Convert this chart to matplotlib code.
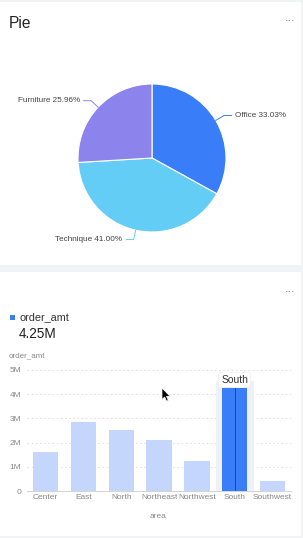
import numpy as np
import matplotlib
matplotlib.use("Agg")
import matplotlib.pyplot as plt
from matplotlib.patches import Rectangle, Polygon

plt.rcParams['font.family'] = ['Liberation Sans', 'DejaVu Sans']

# ---- data ----
pie_labels = ["Office", "Technique", "Furniture"]
pie_values = [33.03, 41.00, 25.96]
pie_colors = ["#3a7df9", "#63cdf5", "#8c84ec"]

areas = ["Center", "East", "North", "Northeast", "Northwest", "South", "Southwest"]
order_amt = [1.62, 2.86, 2.51, 2.11, 1.25, 4.25, 0.41]  # millions
highlight = "South"
y_ticks = [0, 1, 2, 3, 4, 5]
y_tick_labels = ["0", "1M", "2M", "3M", "4M", "5M"]

W, H = 303, 538
fig = plt.figure(figsize=(W / 100, H / 100), dpi=100)
fig.patch.set_facecolor("#f2f3f5")


def fx(x):
    return x / W


def fy(y):
    return 1 - y / H


# cards
fig.patches.append(Rectangle((0, fy(265)), fx(301), (265 - 2) / H, transform=fig.transFigure,
                             facecolor="white", edgecolor="none", zorder=-10))
fig.patches.append(Rectangle((0, fy(536)), fx(301), (536 - 272) / H, transform=fig.transFigure,
                             facecolor="white", edgecolor="none", zorder=-10))

# ---- top card ----
fig.text(fx(9), fy(23), "Pie", fontsize=11.2, color="#222222", va="center", ha="left")
fig.text(fx(290), fy(21), "···", fontsize=7.5, color="#444444", va="center", ha="center")

cx, cy, R = 152, 158, 74
axp = fig.add_axes([fx(cx - R), fy(cy + R), 2 * R / W, 2 * R / H])
axp.set_facecolor("none")
wedges, _ = axp.pie(pie_values, colors=pie_colors, startangle=90, counterclock=False,
                    radius=1, wedgeprops=dict(edgecolor="white", linewidth=0.8))
axp.set_xlim(-1, 1)
axp.set_ylim(-1, 1)
axp.set_aspect("auto")
axp.axis("off")

for w, lab, val, col in zip(wedges, pie_labels, pie_values, pie_colors):
    ang = np.deg2rad((w.theta1 + w.theta2) / 2)
    x0, y0 = np.cos(ang), np.sin(ang)
    x1, y1 = 1.13 * x0, 1.13 * y0
    s = 1 if x0 >= 0 else -1
    x2 = x1 + s * 0.1
    axp.plot([x0, x1, x2], [y0, y1, y1], color=col, lw=0.7, clip_on=False)
    axp.text(x2 + s * 0.05, y1, f"{lab} {val:.2f}%", fontsize=5.9, color="#444444",
             ha="left" if s > 0 else "right", va="center", clip_on=False)

# ---- bottom card ----
fig.text(fx(290), fy(292), "···", fontsize=7.5, color="#444444", va="center", ha="center")
fig.patches.append(Rectangle((fx(10), fy(319.5)), 5 / W, 5 / H, transform=fig.transFigure,
                             facecolor="#3a7df9", edgecolor="none", zorder=2))
fig.text(fx(19), fy(317), "order_amt", fontsize=7.8, color="#333333", va="center", ha="left")
hv = order_amt[areas.index(highlight)]
fig.text(fx(19), fy(334), f"{hv:.2f}M", fontsize=9.8, color="#222222", va="center", ha="left")
fig.text(fx(9), fy(356), "order_amt", fontsize=5.8, color="#888888", va="center", ha="left")

left, right, top, bottom = 26.8, 291.4, 370, 491
ax = fig.add_axes([fx(left), fy(bottom), (right - left) / W, (bottom - top) / H])
ax.set_facecolor("none")
x = np.arange(len(areas))
hi = areas.index(highlight)

# highlight background
ax.bar([x[hi]], [hv + 0.3], width=1.0, color="#eef1f6", zorder=1, clip_on=False)
cols = ["#3a7df9" if a == highlight else "#c4d6fc" for a in areas]
ax.bar(x, order_amt, width=0.67, color=cols, zorder=3)
ax.plot([x[hi], x[hi]], [0, hv], color="#1f3f7a", lw=0.6, zorder=4)

ax.set_xlim(-0.5, len(areas) - 0.5)
ax.set_ylim(0, 5)
ax.set_yticks(y_ticks)
ax.set_yticklabels(y_tick_labels)
ax.set_xticks(x)
ax.set_xticklabels(areas)
ax.tick_params(axis="both", length=0, labelsize=6, labelcolor="#888888")
ax.tick_params(axis="y", pad=4.0)
ax.tick_params(axis="x", pad=2.5)
for yv in y_ticks[1:]:
    ax.axhline(yv, color="#dcdcdc", lw=0.6, dashes=(2, 3), zorder=0)
for sp in ["top", "right", "left"]:
    ax.spines[sp].set_visible(False)
ax.spines["bottom"].set_color("#cccccc")
ax.spines["bottom"].set_linewidth(0.6)
fig.text(fx(158.5), fy(517), "area", fontsize=6, color="#888888", ha="center", va="center")

# tooltip label
ax.annotate(highlight, xy=(x[hi], hv), xytext=(0, 6), textcoords="offset points",
            ha="center", va="center", fontsize=7.5, color="#333333", zorder=6,
            bbox=dict(boxstyle="round,pad=0.25,rounding_size=0.3", fc="white", ec="#eeeeee", lw=0.5),
            annotation_clip=False)

# mouse cursor
tipx, tipy = 162, 388
cur = np.array([(0, 0), (0, 11.5), (2.7, 9), (4.6, 13.2), (6.3, 12.4), (4.5, 8.3), (8, 8.3)])
pts = [(fx(tipx + px), fy(tipy + py)) for px, py in cur]
fig.patches.append(Polygon(pts, closed=True, transform=fig.transFigure, facecolor="black",
                           edgecolor="white", lw=0.5, zorder=10))

fig.savefig("out.png", dpi=100, facecolor=fig.get_facecolor())
